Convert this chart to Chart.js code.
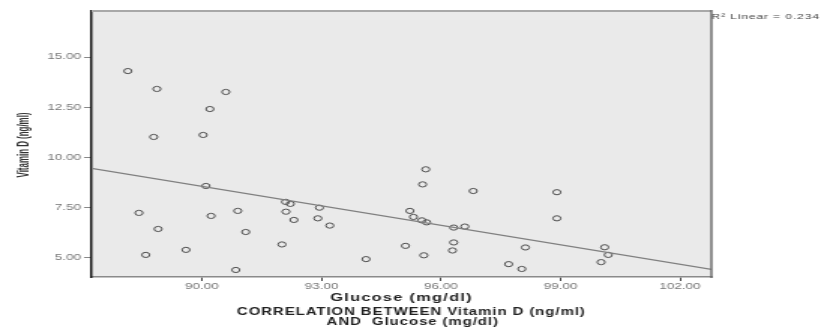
<!DOCTYPE html>
<html>
<head>
<meta charset="utf-8">
<script src="https://cdn.jsdelivr.net/npm/chart.js@4"></script>
<style>
  html, body { margin: 0; padding: 0; background: #fff; overflow: hidden; }
  /* the original SPSS picture is stretched sideways, so the chart is drawn narrow and scaled */
  #wrap { position: relative; width: 549px; height: 336px; transform: scaleX(1.50091); transform-origin: 0 0; }
</style>
</head>
<body>
<div id="wrap"><canvas id="scatter"></canvas></div>
<script>
// values
const glucose = [
  88.14, 88.87, 90.60, 90.20, 88.79, 90.03, 90.10, 88.42, 90.23, 90.90,
  88.90, 91.10, 89.60, 88.59, 90.85, 92.10, 92.22, 92.11, 92.31, 92.95,
  92.91, 93.21, 92.01, 94.12, 95.11, 95.22, 95.31, 95.52, 95.64, 95.62,
  95.54, 95.57, 96.32, 96.60, 96.32, 96.29, 96.81, 97.70, 98.03, 98.12,
  98.91, 98.91, 100.11, 100.20, 100.02
];
const vitaminD = [
  14.30, 13.41, 13.26, 12.41, 11.02, 11.12, 8.58, 7.24, 7.09, 7.34,
  6.44, 6.29, 5.40, 5.15, 4.40, 7.79, 7.69, 7.30, 6.89, 7.50,
  6.97, 6.61, 5.67, 4.94, 5.60, 7.34, 7.04, 6.87, 6.77, 9.41,
  8.66, 5.13, 6.51, 6.56, 5.77, 5.37, 8.33, 4.69, 4.45, 5.52,
  8.27, 6.97, 5.53, 5.15, 4.79
];
// fit line end points (R² linear = 0.234)
const fitX = [87.23, 102.79];
const fitY = [9.46, 4.43];

const xTitle = 'Glucose (mg/dl)';
const yTitle = 'Vitamin D (ng/ml)';
const chartTitle = ['CORRELATION BETWEEN Vitamin D (ng/ml)', 'AND  Glucose (mg/dl)'];
const fitLabel = 'R\u00b2 Linear = 0.234';

const FONT = '"Liberation Sans", Arial, sans-serif';

const frameAndText = {
  id: 'frameAndText',
  beforeDraw(chart) {
    const { ctx, chartArea: a } = chart;
    ctx.save();
    ctx.fillStyle = '#eaeaea';
    ctx.fillRect(a.left, a.top, a.right - a.left, a.bottom - a.top);
    ctx.restore();
  },
  afterDraw(chart) {
    const { ctx, chartArea: a } = chart;
    ctx.save();
    ctx.lineWidth = 2;
    ctx.strokeStyle = '#a8a8a8';
    ctx.beginPath();
    ctx.moveTo(a.left, a.top);
    ctx.lineTo(a.right, a.top);
    ctx.stroke();
    ctx.lineWidth = 1.4;
    ctx.strokeStyle = '#666';
    ctx.beginPath();
    ctx.moveTo(a.right, a.top - 1);
    ctx.lineTo(a.right, a.bottom + 1);
    ctx.stroke();

    ctx.fillStyle = '#222';
    ctx.textAlign = 'center';
    ctx.textBaseline = 'alphabetic';

    // x axis title
    ctx.font = 'bold 11px ' + FONT;
    ctx.letterSpacing = '0.8px';
    ctx.fillText(xTitle, (a.left + a.right) / 2, 301);

    // chart title under the axis
    ctx.font = 'bold 10px ' + FONT;
    ctx.letterSpacing = '0.6px';
    ctx.fillText(chartTitle[0], 274, 315);
    ctx.fillText(chartTitle[1], 275, 325);

    // R² note at top right
    ctx.font = '8px ' + FONT;
    ctx.letterSpacing = '0.6px';
    ctx.fillStyle = '#444';
    ctx.textAlign = 'left';
    ctx.fillText(fitLabel, a.right, 19);

    // y axis title, squeezed along its length
    ctx.letterSpacing = '0px';
    ctx.font = 'bold 11px ' + FONT;
    ctx.fillStyle = '#333';
    const w = ctx.measureText(yTitle).width;
    ctx.translate(16, 145);
    ctx.rotate(-Math.PI / 2);
    ctx.scale(65 / w, 1);
    ctx.textAlign = 'center';
    ctx.textBaseline = 'middle';
    ctx.fillText(yTitle, 0, 0);
    ctx.restore();
  }
};

const points = glucose.map((g, i) => ({ x: g, y: vitaminD[i] }));
const fitLine = fitX.map((x, i) => ({ x, y: fitY[i] }));

new Chart(document.getElementById('scatter'), {
  type: 'scatter',
  data: {
    datasets: [
      {
        type: 'line',
        data: fitLine,
        borderColor: '#808080',
        borderWidth: 1.3,
        pointRadius: 0,
        fill: false
      },
      {
        data: points,
        pointStyle: 'circle',
        pointRadius: 2.6,
        pointBorderWidth: 1,
        borderColor: '#505050',
        backgroundColor: 'rgba(0,0,0,0)'
      }
    ]
  },
  options: {
    responsive: true,
    maintainAspectRatio: false,
    animation: false,
    layout: { padding: { left: 0, right: 75, top: 11, bottom: 0 } },
    plugins: {
      legend: { display: false },
      tooltip: { enabled: false }
    },
    scales: {
      x: {
        type: 'linear',
        min: 87.23,
        max: 102.79,
        afterFit: (scale) => { scale.height = 59; },
        border: { color: '#8a8a8a', width: 1.5 },
        grid: { drawOnChartArea: false, drawTicks: true, tickLength: 4, tickColor: '#444' },
        ticks: {
          stepSize: 3,
          includeBounds: false,
          padding: 0,
          color: '#777',
          font: { family: FONT, size: 9 },
          maxRotation: 0,
          callback: (v) => Number(v).toFixed(2)
        }
      },
      y: {
        min: 4.05,
        max: 17.29,
        afterFit: (scale) => { scale.width = 61; },
        border: { color: '#111', width: 1.5 },
        grid: { drawOnChartArea: false, drawTicks: true, tickLength: 5, tickColor: '#888' },
        ticks: {
          stepSize: 2.5,
          includeBounds: false,
          padding: 2,
          color: '#777',
          font: { family: FONT, size: 9 },
          callback: (v) => Number(v).toFixed(2)
        }
      }
    }
  },
  plugins: [frameAndText]
});
</script>
</body>
</html>
